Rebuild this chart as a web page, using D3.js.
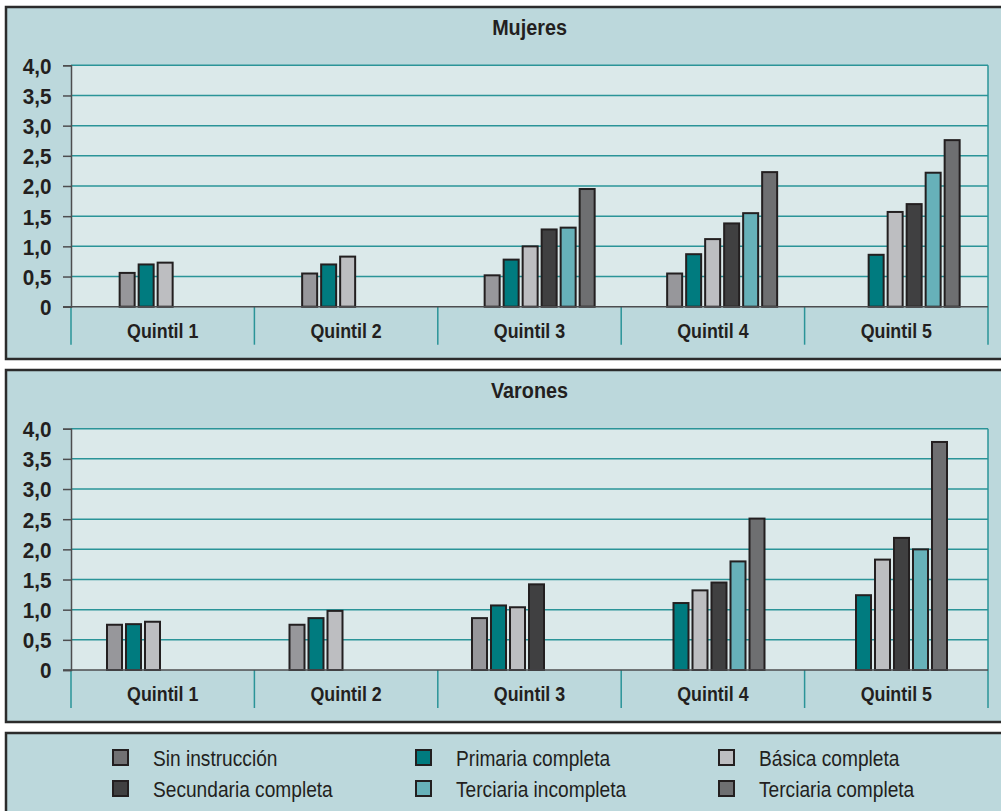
<!DOCTYPE html>
<html>
<head>
<meta charset="utf-8">
<script src="https://cdn.jsdelivr.net/npm/d3@7.9.0/dist/d3.min.js"></script>
<style>
  body { margin: 0; background: #fff; }
  svg { display: block; }
  text { font-family: "Liberation Sans", Arial, sans-serif; fill: #231f20; }
</style>
</head>
<body>
<svg id="chart" width="1001" height="811"></svg>
<script>
const quintiles = ['Quintil 1', 'Quintil 2', 'Quintil 3', 'Quintil 4', 'Quintil 5'];
const series = ['Sin instrucción', 'Primaria completa', 'Básica completa',
  'Secundaria completa', 'Terciaria incompleta', 'Terciaria completa'];
const colors = ['#97979b', '#007b7f', '#bdbec1', '#404041', '#67b1b9', '#6e6f71'];
const legendColors = ['#717173', '#007b7f', '#bdbec1', '#404041', '#67b1b9', '#6e6f71'];
const yTicks = [0, 0.5, 1, 1.5, 2, 2.5, 3, 3.5, 4];

// values per series, one entry per quintil (null = no bar)
const mujeres = [
  [0.56, 0.55, 0.52, 0.55, null],
  [0.70, 0.70, 0.78, 0.87, 0.86],
  [0.73, 0.83, 1.00, 1.12, 1.57],
  [null, null, 1.28, 1.38, 1.70],
  [null, null, 1.31, 1.55, 2.22],
  [null, null, 1.95, 2.23, 2.76]
];
const varones = [
  [0.75, 0.75, 0.86, null, null],
  [0.76, 0.86, 1.07, 1.11, 1.24],
  [0.80, 0.98, 1.04, 1.32, 1.83],
  [null, null, 1.42, 1.45, 2.19],
  [null, null, null, 1.80, 2.00],
  [null, null, null, 2.51, 3.78]
];

const svg = d3.select('#chart');
const locale = d3.formatLocale({ decimal: ',', thousands: '.', grouping: [3], currency: ['', ''] });
const fmt = locale.format('.1f');

const left = 71, right = 988;
const teal = '#2a9498';

// condensed look: squeeze text horizontally around its anchor
function squeezed(sel, x, y, sx) {
  return sel.attr('transform', `translate(${x},${y}) scale(${sx},1)`);
}

function drawPanel(title, values, top, yZero, yFour, shift) {
  const g = svg.append('g');

  g.append('rect')
    .attr('x', 6).attr('y', top)
    .attr('width', 1010).attr('height', 352)
    .attr('fill', '#bcd8dc')
    .attr('stroke', '#2b2b2b').attr('stroke-width', 2.5);

  const y = d3.scaleLinear().domain([0, 4]).range([yZero, yFour]);
  const x = d3.scaleBand().domain(quintiles).range([left, right]);
  // bar groups sit on a slightly narrower step than the separators
  const xBar = d3.scaleBand().domain(quintiles).range([left + shift, left + shift + 182.5 * 5]);
  const xInner = d3.scaleBand().domain(d3.range(series.length)).range([0, 19 * series.length]);
  const innerOffset = (xBar.bandwidth() - xInner.range()[1]) / 2;

  g.append('rect')
    .attr('x', left).attr('y', y(4))
    .attr('width', right - left).attr('height', y(0) - y(4))
    .attr('fill', '#dbe9ea');

  // gridlines
  g.selectAll('.grid')
    .data(yTicks.filter(d => d > 0))
    .join('line')
    .attr('x1', left).attr('x2', right)
    .attr('y1', d => y(d)).attr('y2', d => y(d))
    .attr('stroke', teal).attr('stroke-width', 1.5);

  // right edge and separators
  g.append('line')
    .attr('x1', right).attr('x2', right)
    .attr('y1', y(4)).attr('y2', y(0) + 38)
    .attr('stroke', teal).attr('stroke-width', 1.5);
  g.selectAll('.sep')
    .data(quintiles)
    .join('line')
    .attr('x1', d => x(d)).attr('x2', d => x(d))
    .attr('y1', y(0)).attr('y2', y(0) + 38)
    .attr('stroke', teal).attr('stroke-width', 1.5);

  // bars
  values.forEach((vals, si) => {
    g.selectAll('.bar' + si)
      .data(quintiles.map((q, qi) => ({ q, v: vals[qi] })).filter(d => d.v != null))
      .join('rect')
      .attr('x', d => xBar(d.q) + innerOffset + xInner(si) + 1)
      .attr('y', d => y(d.v))
      .attr('width', 15)
      .attr('height', d => y(0) - y(d.v))
      .attr('fill', colors[si])
      .attr('stroke', '#231f20').attr('stroke-width', 2);
  });

  // baseline
  g.append('line')
    .attr('x1', left - 8).attr('x2', right)
    .attr('y1', y(0)).attr('y2', y(0))
    .attr('stroke', '#4d4d4f').attr('stroke-width', 1.5);

  // y axis
  const axis = g.append('g')
    .attr('transform', `translate(${left},0)`)
    .call(d3.axisLeft(y).tickValues(yTicks).tickSize(8).tickPadding(11)
      .tickFormat(d => d === 0 ? '0' : fmt(d)));
  axis.select('.domain').attr('stroke', '#4d4d4f').attr('stroke-width', 1.5);
  axis.selectAll('.tick line').attr('stroke', '#4d4d4f').attr('stroke-width', 1.5);
  axis.selectAll('.tick text')
    .attr('fill', '#231f20')
    .style('font-family', '"Liberation Sans", Arial, sans-serif')
    .style('font-size', '22px').style('font-weight', 'bold')
    .attr('x', null)
    .attr('dy', '0.36em')
    .attr('transform', 'translate(-19.5,0) scale(0.94,1)');

  // category labels
  g.selectAll('.cat')
    .data(quintiles)
    .join('text')
    .call(sel => sel.each(function (d) {
      squeezed(d3.select(this), x(d) + x.bandwidth() / 2, y(0) + 31, 0.85);
    }))
    .attr('text-anchor', 'middle')
    .style('font-size', '21px').style('font-weight', 'bold')
    .text(d => d);

  squeezed(g.append('text'), (left + right) / 2, top + 28, 0.9)
    .attr('text-anchor', 'middle')
    .style('font-size', '22px').style('font-weight', 'bold')
    .text(title);
}

drawPanel('Mujeres', mujeres, 7, 306.7, 65.3, 13.4);
drawPanel('Varones', varones, 370, 670, 428.7, 0.75);

// legend
const lg = svg.append('g');
lg.append('rect')
  .attr('x', 6).attr('y', 733)
  .attr('width', 1010).attr('height', 100)
  .attr('fill', '#bcd8dc')
  .attr('stroke', '#2b2b2b').attr('stroke-width', 2.5);

const colX = [113, 416, 719];
const rowY = [750, 781];
series.forEach((s, i) => {
  const cx = colX[i % 3], cy = rowY[Math.floor(i / 3)];
  lg.append('rect')
    .attr('x', cx).attr('y', cy)
    .attr('width', 15).attr('height', 15)
    .attr('fill', legendColors[i])
    .attr('stroke', '#231f20').attr('stroke-width', 2);
  squeezed(lg.append('text'), cx + 40, cy + 16, 0.87)
    .style('font-size', '22px')
    .text(s);
});
</script>
</body>
</html>
